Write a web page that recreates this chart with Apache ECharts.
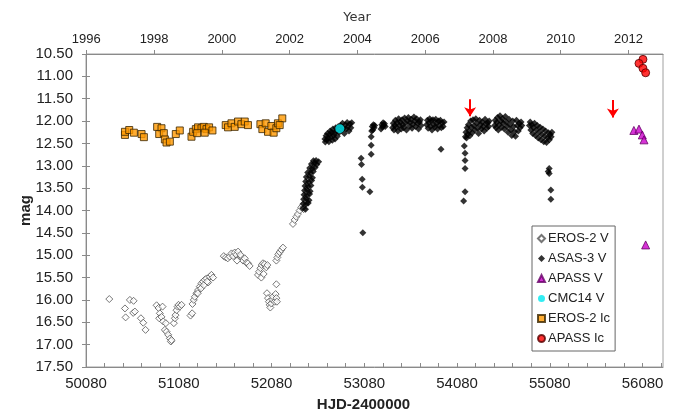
<!DOCTYPE html>
<html>
<head>
<meta charset="utf-8">
<script src="https://cdn.jsdelivr.net/npm/echarts@6/dist/echarts.min.js"></script>
<style>
  html, body { margin: 0; padding: 0; background: #fff; }
  #chart { width: 678px; height: 413px; }
</style>
</head>
<body>
<div id="chart"></div>
<script>
// [HJD-2400000, mag]
var erosV = [
  [50331, 15.98], [50500, 16.19], [50507, 16.39], [50553, 16.00], [50593, 16.02],
  [50589, 16.29], [50607, 16.26], [50672, 16.41], [50697, 16.51], [50722, 16.67],
  [50841, 16.12], [50862, 16.18], [50876, 16.30], [50869, 16.41], [50905, 16.15],
  [50894, 16.38], [50912, 16.48], [50930, 16.67], [50941, 16.52], [50948, 16.71],
  [50966, 16.78], [50984, 16.86], [50995, 16.93], [51002, 16.90],
  [51027, 16.52], [51038, 16.41], [51045, 16.34], [51056, 16.23], [51067, 16.15],
  [51077, 16.11], [51091, 16.15], [51110, 16.11], [51207, 16.35], [51224, 16.30],
  [51228, 16.09], [51242, 16.00], [51253, 15.93], [51271, 15.85], [51288, 15.78],
  [51307, 15.70], [51325, 15.63], [51342, 15.59], [51360, 15.55], [51379, 15.52],
  [51396, 15.61], [51414, 15.48], [51432, 15.44], [51450, 15.50], [51285, 15.85],
  [51321, 15.74], [51350, 15.67], [51386, 15.59],
  [51565, 15.02], [51586, 15.05], [51608, 15.07], [51629, 15.03], [51648, 14.96],
  [51665, 15.02], [51683, 14.94], [51701, 14.99], [51719, 14.92], [51737, 15.05],
  [51755, 15.03], [51773, 15.12], [51791, 15.07], [51809, 15.17], [51826, 15.18],
  [51844, 15.24], [51708, 15.12], [51744, 14.99],
  [51934, 15.44], [51945, 15.37], [51960, 15.29], [51974, 15.22], [51988, 15.18],
  [52006, 15.20], [52024, 15.27], [52035, 15.22], [51970, 15.50], [51995, 15.42],
  [52031, 15.85], [52042, 15.96], [52052, 16.04], [52060, 16.11], [52067, 16.17],
  [52078, 16.08], [52089, 15.99], [52095, 15.93], [52114, 16.04], [52124, 15.87],
  [52132, 15.96], [52138, 16.04], [52132, 15.65],
  [52132, 15.12], [52143, 15.05], [52153, 14.98], [52168, 14.93], [52186, 14.88],
  [52203, 14.83],
  [52311, 14.30], [52329, 14.21], [52347, 14.14], [52364, 14.08], [52383, 14.00],
  [52401, 13.93], [52418, 13.88], [52426, 13.97]
];

var asasV = [
  // 2002 rise
  [52418, 13.95], [52446, 13.97], [52421, 13.85], [52452, 13.86], [52476, 13.83],
  [52426, 13.75], [52455, 13.74], [52484, 13.77], [52430, 13.65], [52461, 13.66],
  [52490, 13.63], [52436, 13.55], [52466, 13.54], [52496, 13.57], [52441, 13.45],
  [52473, 13.46], [52505, 13.44], [52448, 13.35], [52480, 13.36], [52512, 13.33],
  [52455, 13.25], [52489, 13.24], [52521, 13.27], [52470, 13.15], [52500, 13.16],
  [52530, 13.13], [52491, 13.05], [52519, 13.06], [52550, 13.04], [52510, 12.96],
  [52541, 12.95], [52568, 12.97], [52532, 12.89], [52560, 12.88], [52588, 12.91],
  // 2003
  [52655, 12.40], [52660, 12.47], [52668, 12.33], [52675, 12.42], [52683, 12.28],
  [52690, 12.38], [52698, 12.46], [52705, 12.30], [52712, 12.22], [52720, 12.36],
  [52728, 12.25], [52735, 12.43], [52742, 12.18], [52750, 12.32], [52758, 12.27],
  [52765, 12.40], [52772, 12.15], [52780, 12.22], [52790, 12.34], [52800, 12.12],
  [52810, 12.25], [52825, 12.10], [52835, 12.20], [52845, 12.05], [52855, 12.16],
  [52865, 12.28], [52875, 12.08], [52885, 12.18], [52895, 12.03], [52905, 12.12],
  [52915, 12.22], [52925, 12.06], [52935, 12.15], [52945, 12.04],
  // 2004
  [53046, 12.83], [53050, 12.97], [53057, 13.30], [53059, 13.48], [53064, 14.50],
  [53140, 13.58], [53154, 12.74], [53154, 12.54], [53154, 12.35], [53160, 12.22],
  [53166, 12.12], [53172, 12.20], [53178, 12.08], [53185, 12.15], [53192, 12.10],
  [53260, 12.18], [53268, 12.08], [53275, 12.13], [53283, 12.04], [53290, 12.10],
  [53298, 12.06], [53305, 12.12],
  // 2005
  [53385, 12.15], [53392, 12.05], [53400, 12.20], [53408, 12.10], [53415, 11.98],
  [53425, 12.14], [53433, 12.04], [53442, 12.22], [53450, 11.95], [53460, 12.10],
  [53468, 12.02], [53478, 12.18], [53488, 11.97], [53496, 12.08], [53505, 12.15],
  [53515, 11.93], [53525, 12.05], [53535, 12.20], [53545, 12.00], [53555, 11.92],
  [53565, 12.12], [53575, 12.03], [53585, 11.96], [53595, 12.16], [53605, 12.07],
  [53615, 11.91], [53625, 12.00], [53635, 12.12], [53645, 11.95], [53655, 12.05],
  [53665, 12.18], [53675, 12.02], [53685, 11.97], [53692, 12.10],
  // 2006
  [53752, 12.08], [53760, 11.98], [53768, 12.16], [53776, 12.04], [53785, 11.95],
  [53793, 12.12], [53802, 12.00], [53810, 12.20], [53820, 11.97], [53830, 12.08],
  [53840, 12.14], [53850, 11.96], [53860, 12.05], [53870, 12.18], [53880, 12.00],
  [53890, 12.10], [53900, 11.98], [53910, 12.15], [53920, 12.04], [53930, 12.12],
  [53940, 12.02], [53907, 12.63],
  // 2007
  [54158, 12.56], [54166, 12.72], [54166, 12.88], [54166, 13.06], [54166, 13.58],
  [54151, 13.79],
  [54170, 12.35], [54176, 12.25], [54182, 12.38], [54188, 12.15], [54195, 12.30],
  [54202, 12.08], [54210, 12.22], [54218, 12.33], [54226, 12.00], [54235, 12.14],
  [54244, 12.26], [54252, 11.97], [54262, 12.10], [54272, 12.20], [54282, 11.95],
  [54292, 12.05], [54302, 12.16], [54312, 12.28], [54322, 11.98], [54332, 12.08],
  [54342, 12.18], [54352, 12.02], [54362, 12.12], [54372, 12.22], [54382, 11.96],
  [54392, 12.06], [54402, 12.16], [54412, 12.04], [54420, 12.12], [54426, 12.00],
  // 2008
  [54485, 12.10], [54492, 11.98], [54500, 12.15], [54508, 12.03], [54516, 11.92],
  [54525, 12.20], [54534, 12.08], [54543, 11.88], [54552, 12.00], [54560, 12.14],
  [54570, 11.95], [54580, 12.05], [54590, 12.18], [54600, 11.90], [54610, 12.02],
  [54620, 12.12], [54630, 12.25], [54640, 11.96], [54650, 12.08], [54660, 12.20],
  [54670, 12.32], [54680, 12.00], [54690, 12.12], [54700, 12.24], [54710, 12.34],
  [54720, 11.98], [54730, 12.10], [54740, 12.22], [54750, 12.05], [54760, 12.15],
  [54770, 12.02], [54778, 12.10],
  // 2009
  [54860, 12.10], [54868, 12.02], [54876, 12.20], [54885, 12.08], [54895, 12.28],
  [54905, 12.15], [54915, 12.05], [54925, 12.32], [54935, 12.20], [54945, 12.10],
  [54955, 12.38], [54965, 12.25], [54975, 12.14], [54985, 12.42], [54995, 12.30],
  [55005, 12.18], [55015, 12.46], [55025, 12.34], [55035, 12.22], [55045, 12.48],
  [55055, 12.38], [55065, 12.26], [55075, 12.42], [55085, 12.30], [55095, 12.35],
  [55102, 12.25],
  [55062, 13.13], [55073, 13.06], [55073, 13.17], [55091, 13.54], [55091, 13.75]
];

var apassV = [[55986, 12.21], [56041, 12.18], [56077, 12.31], [56095, 12.42], [56113, 14.77]];
var cmcV = [[52816, 12.17]];

var erosIc = [
  [50500, 12.31], [50500, 12.24], [50546, 12.20], [50596, 12.26], [50679, 12.29],
  [50704, 12.36], [50847, 12.13], [50894, 12.16], [50869, 12.29], [50919, 12.27],
  [50930, 12.41], [50948, 12.48], [50984, 12.46], [51048, 12.29], [51091, 12.21],
  [51217, 12.35], [51235, 12.24], [51264, 12.18], [51288, 12.14], [51325, 12.16],
  [51350, 12.13], [51379, 12.18], [51407, 12.14], [51443, 12.21], [51278, 12.27],
  [51360, 12.26], [51586, 12.09], [51611, 12.14], [51648, 12.05], [51683, 12.13],
  [51719, 12.01], [51755, 12.07], [51791, 12.01], [51826, 12.09], [51960, 12.07],
  [51981, 12.18], [52017, 12.05], [52042, 12.24], [52078, 12.11], [52103, 12.26],
  [52132, 12.16], [52149, 12.05], [52196, 11.94], [52168, 12.09]
];

var apassIc = [[56084, 10.62], [56041, 10.71], [56084, 10.82], [56113, 10.92]];

// red arrows (JD, top mag, tip mag)
var arrowJD = [54221, 55760];
var arrowTop = [11.51, 11.53];
var arrowTip = [11.89, 11.92];

var hjdTicks = [50080, 51080, 52080, 53080, 54080, 55080, 56080];
var yearTicks = [1996, 1998, 2000, 2002, 2004, 2006, 2008, 2010, 2012];
var hjdMin = 50080, hjdMax = 56300;
var magMin = 10.5, magMax = 17.5, magStep = 0.5;

var hjdMinor = [];
for (var t = hjdMin; t < hjdMax; t += 200) hjdMinor.push(t);
// year of hjdMin / hjdMax (1996.0 ~ HJD 50083.5)
var yearMin = 1996 + (hjdMin - 50083.5) / 365.25;
var yearMax = 1996 + (hjdMax - 50083.5) / 365.25;

var font = 'Liberation Sans, Arial, sans-serif';
var axisGray = '#8a8a8a';

var chart = echarts.init(document.getElementById('chart'), null, { renderer: 'canvas' });

var arrowLines = arrowJD.map(function (jd, i) {
  return [{ coord: [jd, arrowTop[i]] }, { coord: [jd, arrowTip[i]] }];
});

function plain(v) { return String(Math.round(v)); }

var option = {
  animation: false,
  backgroundColor: '#fff',
  grid: {
    left: 86, right: 15, top: 54, bottom: 46,
    outerBoundsMode: 'none',
    show: true, borderColor: '#a0a0a0', borderWidth: 1
  },
  legend: {
    orient: 'vertical',
    left: 532, top: 226,
    padding: [6, 5, 6, 5],
    itemWidth: 7, itemHeight: 7, itemGap: 7,
    backgroundColor: '#fff',
    borderColor: '#666', borderWidth: 1, borderRadius: 0,
    textStyle: { fontFamily: font, fontSize: 13, color: '#222', padding: [0, 0, 0, -2] },
    data: ['EROS-2 V', 'ASAS-3 V', 'APASS V', 'CMC14 V', 'EROS-2 Ic', 'APASS Ic']
  },
  xAxis: [
    {
      type: 'value', position: 'bottom',
      min: hjdMin, max: hjdMax,
      name: 'HJD-2400000', nameLocation: 'middle', nameGap: 30,
      nameTextStyle: { fontFamily: font, fontSize: 15, fontWeight: 'bold', color: '#222', padding: [0, 22, 0, 0] },
      axisLine: { lineStyle: { color: axisGray } },
      axisTick: { inside: true, length: 4, lineStyle: { color: axisGray }, customValues: hjdMinor },
      axisLabel: { customValues: hjdTicks, formatter: plain, fontFamily: font, fontSize: 15, color: '#222', margin: 9 },
      splitLine: { show: false }
    },
    {
      type: 'value', position: 'top',
      min: yearMin, max: yearMax,
      name: 'Year', nameLocation: 'middle', nameGap: 30,
      nameTextStyle: { fontFamily: 'DejaVu Sans, sans-serif', fontSize: 13, color: '#333', padding: [0, 35, 0, 0] },
      axisLine: { lineStyle: { color: axisGray } },
      axisTick: { length: 4, lineStyle: { color: axisGray }, customValues: yearTicks },
      axisLabel: { customValues: yearTicks, formatter: plain, fontFamily: font, fontSize: 13, color: '#222', margin: 8 },
      splitLine: { show: false }
    }
  ],
  yAxis: [
    {
      type: 'value', inverse: true,
      min: magMin, max: magMax, interval: magStep,
      name: 'mag', nameLocation: 'middle', nameGap: 58, nameMoveOverlap: false,
      nameTextStyle: { fontFamily: font, fontSize: 15, fontWeight: 'bold', color: '#222', padding: [0, 0, -5, 0] },
      axisLine: { show: true, lineStyle: { color: axisGray } },
      axisTick: { show: true, length: 4, lineStyle: { color: axisGray } },
      axisLabel: {
        fontFamily: font, fontSize: 15, color: '#222', margin: 13,
        formatter: function (v) { return v.toFixed(2); }
      },
      splitLine: { show: false }
    },
    {
      // inner half of the crossing ticks
      type: 'value', inverse: true, position: 'left',
      min: magMin, max: magMax, interval: magStep,
      axisLine: { show: false },
      axisTick: { show: true, inside: true, length: 4, lineStyle: { color: axisGray } },
      axisLabel: { show: false },
      splitLine: { show: false }
    }
  ],
  series: [
    {
      name: 'EROS-2 V', type: 'scatter', data: erosV,
      symbol: 'diamond', symbolSize: 7,
      itemStyle: { color: '#fff', borderColor: '#555', borderWidth: 1 }
    },
    {
      name: 'ASAS-3 V', type: 'scatter', data: asasV,
      symbol: 'diamond', symbolSize: 7,
      itemStyle: { color: '#000' }
    },
    {
      name: 'APASS V', type: 'scatter', data: apassV,
      symbol: 'triangle', symbolSize: 8,
      itemStyle: { color: '#cc00cc', borderColor: '#660066', borderWidth: 1 }
    },
    {
      name: 'CMC14 V', type: 'scatter', data: cmcV,
      symbol: 'circle', symbolSize: 9,
      itemStyle: { color: '#00e8f0' }
    },
    {
      name: 'EROS-2 Ic', type: 'scatter', data: erosIc,
      symbol: 'rect', symbolSize: 7,
      itemStyle: { color: '#ff9900', borderColor: '#3a2600', borderWidth: 1 }
    },
    {
      name: 'APASS Ic', type: 'scatter', data: apassIc,
      symbol: 'circle', symbolSize: 8,
      itemStyle: { color: '#ff0000', borderColor: '#550000', borderWidth: 1 }
    },
    {
      name: 'arrows', type: 'scatter', data: [],
      markLine: {
        silent: true,
        symbol: ['none', 'arrow'],
        symbolSize: 9,
        label: { show: false },
        lineStyle: { color: '#ff0000', width: 2, type: 'solid' },
        itemStyle: { color: '#ff0000' },
        data: arrowLines
      }
    }
  ]
};

chart.setOption(option);
</script>
</body>
</html>
